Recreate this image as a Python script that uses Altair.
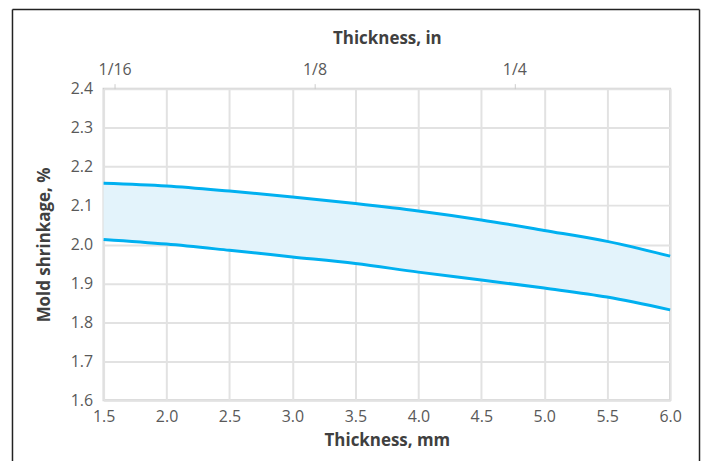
import altair as alt
import pandas as pd

thickness_mm = [1.5, 2.0, 2.5, 3.0, 3.5, 4.0, 4.5, 5.0, 5.5, 6.0]
upper = [2.157, 2.150, 2.137, 2.122, 2.105, 2.086, 2.063, 2.036, 2.008, 1.970]
lower = [2.013, 2.001, 1.985, 1.968, 1.951, 1.929, 1.909, 1.888, 1.865, 1.832]

x_ticks = [1.5, 2.0, 2.5, 3.0, 3.5, 4.0, 4.5, 5.0, 5.5, 6.0]
y_ticks = [1.6, 1.7, 1.8, 1.9, 2.0, 2.1, 2.2, 2.3, 2.4]
inch_pos = [1.5875, 3.175, 4.7625]
inch_labels = ["1/16", "1/8", "1/4"]

df = pd.DataFrame({"t": thickness_mm, "hi": upper, "lo": lower})

W, H = 569, 313
FONT = "Open Sans"
LINE = "#00b0f0"
FILL = "#e3f3fb"
LBL = "#595959"
TTL = "#404040"
LFS = 16
TFS = 17

xs = alt.Scale(domain=[1.5, 6.0], nice=False, zero=False)
ys = alt.Scale(domain=[1.6, 2.4], nice=False, zero=False)

bottom_axis = alt.Axis(
    orient="bottom", values=x_ticks, format=".1f", title="Thickness, mm",
    ticks=False, labelPadding=8, titlePadding=8, grid=True,
    labelFlush=False, labelBound=False, labelOverlap=False,
    gridColor="#e2e2e2", gridWidth=2, domain=False,
    labelFont=FONT, labelFontSize=LFS, labelColor=LBL,
    titleFont=FONT, titleFontSize=TFS, titleFontWeight="bold", titleColor=TTL,
)
label_expr = " : ".join(
    f"datum.value < {v + 0.01} ? '{l}'" for v, l in zip(inch_pos[:-1], inch_labels[:-1])
) + f" : '{inch_labels[-1]}'"
top_axis = alt.Axis(
    orient="top", values=inch_pos, labelExpr=label_expr, title="Thickness, in",
    ticks=True, tickSize=5, tickColor="#cccccc", tickWidth=1, labelPadding=6,
    labelFlush=False, labelOverlap=False,
    titlePadding=14, grid=False, domain=False,
    labelFont=FONT, labelFontSize=LFS, labelColor=LBL,
    titleFont=FONT, titleFontSize=TFS, titleFontWeight="bold", titleColor=TTL,
)
y_axis = alt.Axis(
    values=y_ticks, format=".1f", title="Mold shrinkage, %", ticks=False,
    labelPadding=11, titlePadding=17, grid=True, gridColor="#e2e2e2",
    labelFlush=False, labelOverlap=False,
    gridWidth=2, domain=False,
    labelFont=FONT, labelFontSize=LFS, labelColor=LBL,
    titleFont=FONT, titleFontSize=TFS, titleFontWeight="bold", titleColor=TTL,
)

base = alt.Chart(df)

band = base.mark_area(color=FILL, opacity=1, interpolate="monotone").encode(
    x=alt.X("t:Q", scale=xs, axis=bottom_axis),
    y=alt.Y("lo:Q", scale=ys, axis=y_axis),
    y2="hi:Q",
)
line_hi = base.mark_line(color=LINE, strokeWidth=3, interpolate="monotone").encode(
    x=alt.X("t:Q", scale=xs, axis=top_axis),
    y=alt.Y("hi:Q", scale=ys, axis=y_axis),
)
line_lo = base.mark_line(color=LINE, strokeWidth=3, interpolate="monotone").encode(
    x=alt.X("t:Q", scale=xs, axis=None),
    y=alt.Y("lo:Q", scale=ys, axis=y_axis),
)

# outer frame: left, top and right edges (bottom lies below the window)
frame_src = pd.DataFrame({"a": [0]})
frame_left = alt.Chart(frame_src).mark_rule(color="#222222", strokeWidth=1.5).encode(
    x=alt.value(-91.5), y=alt.value(-79.5), y2=alt.value(380)
)
frame_top = alt.Chart(frame_src).mark_rule(color="#222222", strokeWidth=1.5).encode(
    x=alt.value(-91.5), x2=alt.value(598.5), y=alt.value(-79.5)
)
frame_right = alt.Chart(frame_src).mark_rule(color="#222222", strokeWidth=1.5).encode(
    x=alt.value(598.5), y=alt.value(-79.5), y2=alt.value(380)
)

chart = (
    alt.layer(band, line_hi, line_lo, frame_left, frame_top, frame_right)
    .resolve_axis(x="independent")
    .properties(
        width=W, height=H,
        autosize=alt.AutoSizeParams(type="none"),
        padding={"left": 96, "top": 80, "right": 31, "bottom": 60},
    )
    .configure_view(stroke="#cfcfcf", strokeWidth=2)
)

chart.save("out.html", embed_options={"renderer": "svg", "actions": False})
